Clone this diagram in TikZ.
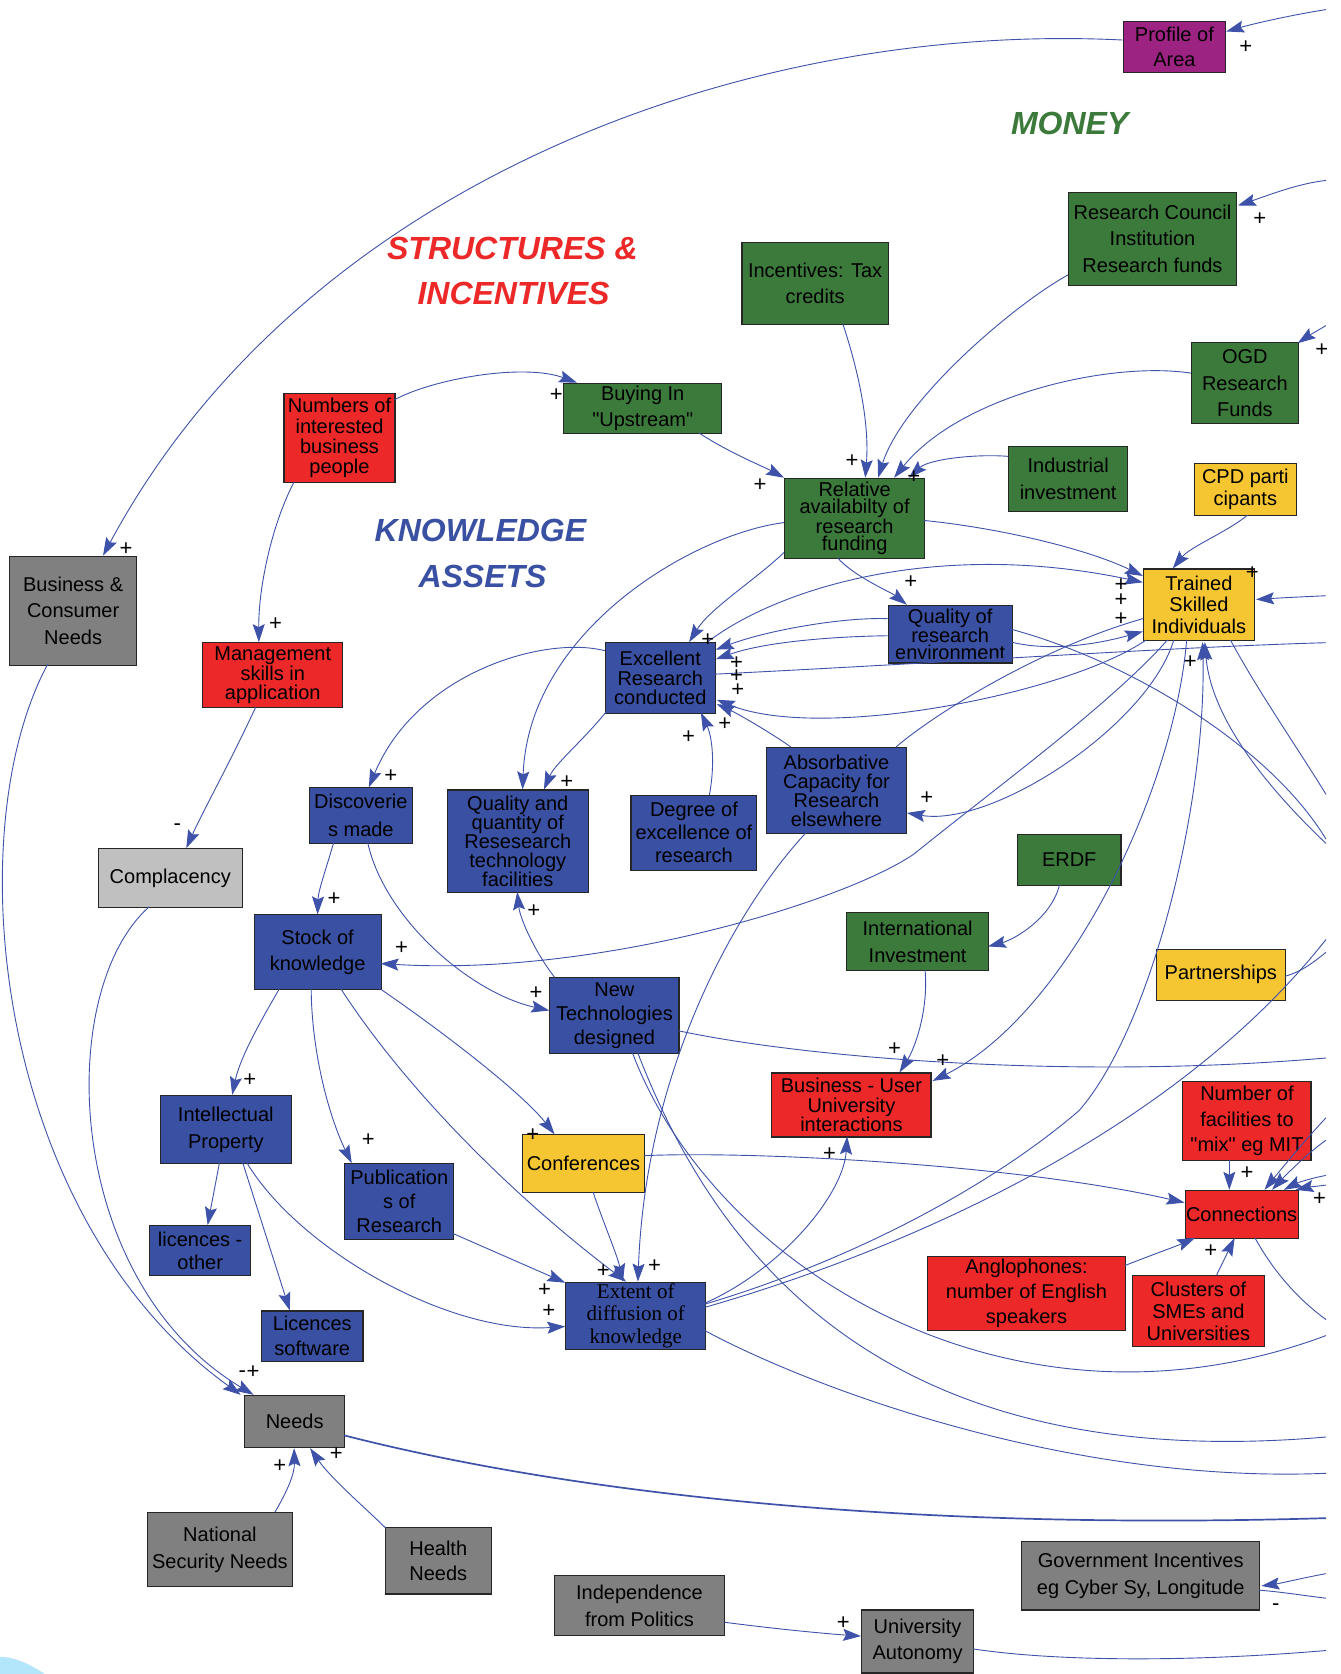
\documentclass[tikz,border=0pt]{standalone}
\usepackage{fontspec}
\setmainfont{Liberation Sans}
\newfontfamily\serifx{Liberation Serif}
\newfontfamily\qfont{Liberation Sans}
\usetikzlibrary{arrows.meta,calc}
\definecolor{cgreen}{RGB}{60,122,60}
\definecolor{cred}{RGB}{236,40,40}
\definecolor{cblue}{RGB}{58,80,162}
\definecolor{cyel}{RGB}{245,197,50}
\definecolor{cgray}{RGB}{128,128,128}
\definecolor{clgray}{RGB}{192,192,192}
\definecolor{cpurp}{RGB}{157,35,131}
\definecolor{cline}{RGB}{62,82,170}
\newcommand{\dq}{{\qfont"}}
\tikzset{
  box/.style={draw=black!85,line width=1.1pt,inner sep=0pt,align=center,text=black},
  gr/.style={fill=cgreen}, rd/.style={fill=cred}, bl/.style={fill=cblue},
  yl/.style={fill=cyel}, gy/.style={fill=cgray}, lg/.style={fill=clgray}, pu/.style={fill=cpurp},
  ar/.style={draw=cline,line width=0.9pt,-{Stealth[length=18pt,width=12pt,inset=3pt]}},
  ln/.style={draw=cline,line width=0.9pt},
  pl/.style={inner sep=0pt,font=\fontsize{22}{22}\selectfont,text=black},
  ttl/.style={inner sep=0pt,font=\fontsize{32}{32}\selectfont\bfseries\itshape}
}
\newcommand{\bxnode}[8]{%
  \pgfmathsetmacro\bxw{(#4-#2)*1.0677}%
  \pgfmathsetmacro\bxh{(#5-#3)*1.0677}%
  \node[box,minimum width=\bxw pt,minimum height=\bxh pt,font={\fontsize{20}{#7}\selectfont},#6] (#1) at ({(#2+#4)/2},{(#3+#5)/2}) {#8};}
\begin{document}
\begin{tikzpicture}[x=1.0677pt,y=-1.0677pt]
\fill[white] (0,0) rectangle (1256,1568);
\useasboundingbox (0,0) rectangle (1256,1568);
\fill[cyan!30!white] (0,1552) .. controls (15,1552) and (30,1560) .. (42,1568) -- (0,1568) -- cycle;

% titles
\node[ttl,text=cred] (tS1) at (480,233) {STRUCTURES \&};
\node[ttl,text=cred] (tS2) at (481,275) {INCENTIVES};
\node[ttl,text=cblue] (tK1) at (450,497) {KNOWLEDGE};
\node[ttl,text=cblue] (tK2) at (452,540) {ASSETS};
\node[ttl,text=cgreen] (tM) at (1002,116) {MONEY};

% nodes
\bxnode{prof}{1052}{20}{1148}{68}{pu}{25.6}{Profile of\\Area}
\bxnode{rc}{1001}{180}{1158}{267}{gr}{26.7}{Research Council\\Institution\\Research funds}
\bxnode{itc}{695}{227}{832}{304}{gr}{26.7}{Incentives: Tax\\credits}
\bxnode{ogd}{1116}{321}{1216}{397}{gr}{26.7}{OGD\\Research\\Funds}
\bxnode{nib}{266}{369}{370}{452}{rd}{20.3}{Numbers of\\interested\\business\\people}
\bxnode{buy}{528}{359}{676}{406}{gr}{25.6}{Buying In\\\dq Upstream\dq}
\bxnode{rel}{735}{448}{866}{523}{gr}{17.4}{Relative\\availabilty of\\research\\funding}
\bxnode{ind}{945}{418}{1056}{479}{gr}{26.7}{Industrial\\investment}
\bxnode{cpd}{1119}{434}{1214}{483}{yl}{22.4}{CPD parti\\cipants}
\bxnode{tsi}{1071}{533}{1175}{600}{yl}{21.9}{Trained\\Skilled\\Individuals}
\bxnode{bcn}{9}{521}{128}{623}{gy}{26.7}{Business \&\\Consumer\\Needs}
\bxnode{mgt}{190}{602}{321}{663}{rd}{19.2}{Management\\skills in\\application}
\bxnode{exc}{567}{602}{670}{668}{bl}{19.8}{Excellent\\Research\\conducted}
\bxnode{qre}{832}{567}{948}{621}{bl}{16.5}{Quality of\\research\\environment}
\bxnode{dis}{290}{738}{386}{790}{bl}{27.8}{Discoverie\\s made}
\bxnode{qqf}{419}{740}{551}{836}{bl}{19.2}{Quality and\\quantity of\\Resesearch\\technology\\facilities}
\bxnode{deg}{591}{745}{709}{815}{bl}{23}{Degree of\\excellence of\\research}
\bxnode{abs}{718}{700}{849}{781}{bl}{18.9}{Absorbative\\Capacity for\\Research\\elsewhere}
\bxnode{erdf}{953}{782}{1050}{829}{gr}{24}{ERDF}
\bxnode{comp}{92}{795}{227}{850}{lg}{24}{Complacency}
\bxnode{stk}{238}{857}{357}{927}{bl}{26.7}{Stock of\\knowledge}
\bxnode{intl}{793}{855}{926}{909}{gr}{26.7}{International\\Investment}
\bxnode{part}{1083}{889}{1204}{937}{yl}{24}{Partnerships}
\bxnode{ntd}{515}{916}{636}{987}{bl}{24}{New\\Technologies\\designed}
\bxnode{bui}{723}{1005}{872}{1065}{rd}{19.2}{Business - User\\University\\interactions}
\bxnode{nfm}{1108}{1013}{1228}{1087}{rd}{25.6}{Number of\\facilities to\\\dq mix\dq\ eg MIT}
\bxnode{ip}{150}{1026}{273}{1090}{bl}{26.7}{Intellectual\\Property}
\bxnode{pub}{323}{1090}{425}{1161}{bl}{24}{Publication\\s of\\Research}
\bxnode{conf}{489}{1063}{604}{1117}{yl}{24}{Conferences}
\bxnode{conn}{1110}{1115}{1216}{1160}{rd}{24}{Connections}
\bxnode{lo}{140}{1148}{235}{1195}{bl}{23.5}{licences -\\other}
\bxnode{ls}{245}{1228}{340}{1275}{bl}{24.6}{Licences\\software}
\bxnode{ext}{530}{1201}{661}{1264}{bl,font={\serifx\fontsize{21}{22.4}\selectfont}}{22.4}{Extent of\\diffusion of\\knowledge}
\bxnode{ang}{869}{1177}{1054}{1246}{rd}{25}{Anglophones:\\number of English\\speakers}
\bxnode{clu}{1061}{1195}{1184}{1261}{rd}{21.9}{Clusters of\\SMEs and\\Universities}
\bxnode{needs}{229}{1307}{323}{1356}{gy}{24}{Needs}
\bxnode{nsn}{138}{1417}{274}{1486}{gy}{26.7}{National\\Security Needs}
\bxnode{hn}{361}{1431}{460}{1493}{gy}{25.6}{Health\\Needs}
\bxnode{indep}{519}{1476}{679}{1532}{gy}{26.7}{Independence\\from Politics}
\bxnode{ua}{807}{1508}{912}{1567}{gy}{26.7}{University\\Autonomy}
\bxnode{gov}{957}{1444}{1180}{1508}{gy}{26.7}{Government Incentives\\eg Cyber Sy, Longitude}

% free ends at the right edge
\coordinate (r1) at (1242,9);
\coordinate (r2) at (1242,169);
\coordinate (r3) at (1242,305);
\coordinate (r4) at (1242,602);
\coordinate (r5) at (1242,790);
\coordinate (r5b) at (1242,786);
\coordinate (r6) at (1242,558);
\coordinate (r7) at (1242,1251);
\coordinate (r8) at (1242,1346);
\coordinate (r9) at (1242,1380);
\coordinate (r10) at (1242,1422);
\coordinate (r11) at (1242,1474);
\coordinate (r12) at (1242,1497);
\coordinate (r13) at (1242,1546);
\coordinate (r14) at (1242,892);
\coordinate (r15) at (1242,880);
\coordinate (r16) at (1242,991);
\coordinate (r17) at (1242,1236);
\coordinate (r18) at (1242,1047);
\coordinate (r19) at (1242,1068);
\coordinate (r20) at (1242,1101);
\coordinate (r21) at (1242,1110);
\coordinate (r22) at (1242,744);

% edges
\draw[ar] (r1) .. controls (1210,14) and (1175,22) .. ($(prof.north west)+(97,10)$);
\draw[ar] ($(prof.north west)+(0,18)$) .. controls (700,20) and (285,170) .. ($(bcn.north west)+(88,0)$);
\draw[ar] (r2) .. controls (1215,172) and (1185,184) .. ($(rc.north west)+(159,13)$);
\draw[ar] ($(rc.north west)+(0,78)$) .. controls (950,285) and (845,375) .. ($(rel.north west)+(88,0)$);
\draw[ar] ($(itc.north west)+(95,77)$) .. controls (800,335) and (815,390) .. ($(rel.north west)+(76,0)$);
\draw[ar] (r3) .. controls (1235,309) and (1225,315) .. ($(ogd.north west)+(100,1)$);
\draw[ar] ($(ogd.north west)+(0,29)$) .. controls (1040,338) and (900,370) .. ($(rel.north west)+(103,0)$);
\draw[ar] ($(ind.north west)+(0,10)$) .. controls (915,425) and (870,430) .. ($(rel.north west)+(117,0)$);
\draw[ar] ($(buy.north west)+(127,47)$) .. controls (685,425) and (715,437) .. (rel.north west);
\draw[ar] ($(nib.north west)+(104,6)$) .. controls (405,355) and (490,340) .. ($(buy.north west)+(13,0)$);
\draw[ar] ($(nib.north west)+(10,83)$) .. controls (255,490) and (242,550) .. ($(mgt.north west)+(53,0)$);
\draw[ar] ($(mgt.north west)+(50,61)$) .. controls (215,715) and (190,760) .. ($(comp.north west)+(83,0)$);
\draw[ar] ($(rel.north west)+(131,40)$) .. controls (940,495) and (1020,515) .. ($(tsi.north west)+(0,7)$);
\draw[ar] ($(exc.north west)+(96,0)$) .. controls (730,550) and (880,505) .. ($(tsi.north west)+(0,13)$);
\draw[ar] ($(rel.north west)+(0,42)$) .. controls (650,500) and (495,590) .. ($(qqf.north west)+(71,0)$);
\draw[ar] ($(rel.north west)+(0,70)$) .. controls (705,545) and (665,570) .. ($(exc.north west)+(79,0)$);
\draw[ar] ($(rel.north west)+(50,75)$) .. controls (800,540) and (835,555) .. ($(qre.north west)+(18,0)$);
\draw[ar] ($(qre.north west)+(0,13)$) .. controls (790,578) and (720,590) .. ($(exc.north west)+(104,7)$);
\draw[ar] ($(qre.north west)+(0,29)$) .. controls (790,596) and (720,600) .. ($(exc.north west)+(104,16)$);
\draw[ln] ($(exc.north west)+(103,30)$) .. controls (900,620) and (1100,606) .. (r4);
\draw[ar] ($(tsi.north west)+(3,67)$) .. controls (1000,650) and (770,695) .. ($(exc.north west)+(105,54)$);
\draw[ar] ($(abs.north west)+(23,0)$) .. controls (720,685) and (690,668) .. ($(exc.north west)+(105,58)$);
\draw[ar] ($(deg.north west)+(74,0)$) .. controls (670,715) and (667,690) .. ($(exc.north west)+(90,66)$);
\draw[ar] ($(exc.north west)+(0,8)$) .. controls (510,595) and (390,630) .. ($(dis.north west)+(56,0)$);
\draw[ar] ($(exc.north west)+(3,63)$) .. controls (550,690) and (520,715) .. ($(qqf.north west)+(91,0)$);
\draw[ar] ($(tsi.north west)+(23,67)$) .. controls (1040,660) and (930,740) .. (856,800) .. controls (790,845) and (560,915) .. ($(stk.north west)+(119,46)$);
\draw[ar] ($(tsi.north west)+(29,67)$) .. controls (1075,680) and (930,775) .. ($(abs.north west)+(132,62)$);
\draw[ar] ($(tsi.north west)+(41,67)$) .. controls (1100,740) and (1000,950) .. ($(bui.north west)+(151,8)$);
\draw[ar] ($(ext.north west)+(131,21)$) .. controls (800,1180) and (930,1110) .. (1011,1040) .. controls (1080,960) and (1130,750) .. ($(tsi.north west)+(56,69)$);
\draw[ar] (r5) .. controls (1200,750) and (1135,680) .. ($(tsi.north west)+(58,69)$);
\draw[ln] ($(qre.north west)+(116,23)$) .. controls (1060,620) and (1190,700) .. (r5b);
\draw[ar] ($(qre.north west)+(116,35)$) .. controls (990,612) and (1040,600) .. ($(tsi.north west)+(0,59)$);
\draw[ln] ($(abs.north west)+(122,0)$) .. controls (880,665) and (980,605) .. ($(tsi.north west)+(0,47)$);
\draw[ar] (r6) .. controls (1220,559) and (1200,560) .. ($(tsi.north west)+(106,29)$);
\draw[ar] ($(cpd.north west)+(50,49)$) .. controls (1150,498) and (1115,512) .. ($(tsi.north west)+(28,0)$);
\draw[ln] ($(tsi.north west)+(82,67)$) .. controls (1180,650) and (1215,700) .. (r22);
\draw[ln] ($(ntd.north west)+(78,71)$) .. controls (670,1190) and (950,1360) .. (r7);
\draw[ln] ($(ntd.north west)+(83,71)$) .. controls (680,1200) and (850,1380) .. (r8);
\draw[ln] ($(ext.north west)+(131,46)$) .. controls (760,1300) and (1000,1390) .. (r9);
\draw[ln,line width=1.7pt] ($(needs.north west)+(94,38)$) .. controls (500,1390) and (800,1435) .. (r10);
\draw[ar] (r11) .. controls (1220,1478) and (1200,1483) .. ($(gov.north west)+(225,42)$);
\draw[ln] ($(gov.north west)+(223,46)$) .. controls (1200,1491) and (1225,1495) .. (r12);
\draw[ln] ($(ua.north west)+(105,37)$) .. controls (980,1555) and (1100,1558) .. (r13);
\draw[ar] ($(indep.north west)+(160,44)$) .. controls (720,1525) and (770,1530) .. ($(ua.north west)+(0,25)$);
\draw[ln] ($(part.north west)+(121,26)$) .. controls (1220,910) and (1232,900) .. (r14);
\draw[ln] ($(ext.north west)+(131,24)$) .. controls (850,1170) and (1100,1060) .. (r15);
\draw[ln] ($(ntd.north west)+(121,50)$) .. controls (750,990) and (1000,1012) .. (r16);
\draw[ar] ($(conf.north west)+(115,20)$) .. controls (700,1078) and (950,1090) .. ($(conn.north west)+(0,12)$);
\draw[ar] ($(conf.north west)+(67,54)$) .. controls (565,1145) and (578,1175) .. ($(ext.north west)+(54,0)$);
\draw[ar] ($(abs.north west)+(37,81)$) .. controls (690,850) and (605,1000) .. ($(ext.north west)+(68,0)$);
\draw[ar] ($(stk.north west)+(82,70)$) .. controls (380,1020) and (480,1120) .. ($(ext.north west)+(57,0)$);
\draw[ar] ($(stk.north west)+(119,70)$) .. controls (420,970) and (490,1025) .. ($(conf.north west)+(31,0)$);
\draw[ar] ($(stk.north west)+(54,70)$) .. controls (292,990) and (310,1050) .. ($(pub.north west)+(7,0)$);
\draw[ar] ($(stk.north west)+(24,70)$) .. controls (245,955) and (225,990) .. ($(ip.north west)+(68,0)$);
\draw[ar] ($(dis.north west)+(23,52)$) .. controls (305,815) and (298,835) .. ($(stk.north west)+(60,0)$);
\draw[ar] ($(dis.north west)+(55,52)$) .. controls (360,860) and (440,930) .. ($(ntd.north west)+(0,31)$);
\draw[ar] ($(ntd.north west)+(5,0)$) .. controls (500,890) and (487,860) .. ($(qqf.north west)+(66,96)$);
\draw[ar] ($(ip.north west)+(56,64)$) -- ($(lo.north west)+(55,0)$);
\draw[ar] ($(ip.north west)+(78,64)$) -- ($(ls.north west)+(27,0)$);
\draw[ar] ($(ip.north west)+(82,64)$) .. controls (280,1170) and (420,1250) .. ($(ext.north west)+(0,42)$);
\draw[ar] ($(pub.north west)+(102,66)$) -- ($(ext.north west)+(0,1)$);
\draw[ar] ($(intl.north west)+(74,54)$) .. controls (870,950) and (855,985) .. ($(bui.north west)+(120,0)$);
\draw[ar] ($(erdf.north west)+(40,47)$) .. controls (985,860) and (950,880) .. ($(intl.north west)+(133,32)$);
\draw[ar] ($(ext.north west)+(131,20)$) .. controls (730,1190) and (790,1120) .. ($(bui.north west)+(71,60)$);
\draw[ar] ($(nfm.north west)+(44,74)$) -- ($(conn.north west)+(42,0)$);
\draw[ar] ($(ang.north west)+(185,9)$) .. controls (1080,1175) and (1100,1168) .. ($(conn.north west)+(10,45)$);
\draw[ar] ($(clu.north west)+(79,0)$) -- ($(conn.north west)+(47,45)$);
\draw[ln] ($(conn.north west)+(66,45)$) .. controls (1195,1195) and (1220,1220) .. (r17);
\draw[ar] (r18) .. controls (1225,1065) and (1200,1095) .. ($(conn.north west)+(75,0)$);
\draw[ar] (r19) .. controls (1225,1080) and (1205,1100) .. ($(conn.north west)+(82,0)$);
\draw[ar] (r20) .. controls (1230,1103) and (1215,1108) .. ($(conn.north west)+(93,0)$);
\draw[ar] (r21) .. controls (1235,1111) and (1225,1112) .. ($(conn.north west)+(104,0)$);
\draw[ar] ($(comp.north west)+(48,55)$) .. controls (50,930) and (60,1200) .. ($(needs.north west)+(9,0)$);
\draw[ar] ($(bcn.north west)+(36,102)$) .. controls (-40,780) and (-5,1140) .. ($(needs.north west)+(-3,0)$);
\draw[ar] ($(nsn.north west)+(120,0)$) .. controls (270,1395) and (276,1380) .. ($(needs.north west)+(47,50)$);
\draw[ar] ($(hn.north west)+(1,1)$) .. controls (345,1415) and (310,1385) .. ($(needs.north west)+(62,50)$);

% polarity signs
\node[pl] (p1) at (1167,44) {+};
\node[pl] (p2) at (118,514) {+};
\node[pl] (p3) at (1180,205) {+};
\node[pl] (p4) at (798,432) {+};
\node[pl] (p5) at (856,447) {+};
\node[pl] (p6) at (712,454) {+};
\node[pl] (p7) at (521,370) {+};
\node[pl] (p8) at (1238,328) {+};
\node[pl] (p9) at (258,585) {+};
\node[pl] (m1) at (166,775) {-};
\node[pl] (p10) at (853,545) {+};
\node[pl] (p11) at (1050,548) {+};
\node[pl] (p12) at (1050,562) {+};
\node[pl] (p13) at (1050,580) {+};
\node[pl] (p14) at (1173,537) {+};
\node[pl] (p15) at (663,600) {+};
\node[pl] (p16) at (690,621) {+};
\node[pl] (p17) at (690,633) {+};
\node[pl] (p18) at (691,646) {+};
\node[pl] (p19) at (679,678) {+};
\node[pl] (p20) at (645,690) {+};
\node[pl] (p21) at (366,727) {+};
\node[pl] (p22) at (531,733) {+};
\node[pl] (p23) at (868,748) {+};
\node[pl] (p24) at (313,842) {+};
\node[pl] (p25) at (376,888) {+};
\node[pl] (p26) at (500,853) {+};
\node[pl] (p27) at (502,930) {+};
\node[pl] (p28) at (234,1012) {+};
\node[pl] (p29) at (345,1068) {+};
\node[pl] (p30) at (499,1063) {+};
\node[pl] (p31) at (838,983) {+};
\node[pl] (p32) at (883,994) {+};
\node[pl] (p33) at (777,1081) {+};
\node[pl] (p34) at (1168,1099) {+};
\node[pl] (p35) at (1236,1123) {+};
\node[pl] (p36) at (1134,1172) {+};
\node[pl] (p37) at (565,1191) {+};
\node[pl] (p38) at (613,1186) {+};
\node[pl] (p39) at (510,1208) {+};
\node[pl] (p40) at (514,1228) {+};
\node[pl] (p41) at (1115,620) {+};
\node[pl] (m2) at (227,1287) {-};
\node[pl] (p42) at (237,1285) {+};
\node[pl] (p43) at (262,1373) {+};
\node[pl] (p44) at (315,1362) {+};
\node[pl] (p45) at (790,1520) {+};
\node[pl] (m3) at (1195,1505) {-};
\end{tikzpicture}
\end{document}
